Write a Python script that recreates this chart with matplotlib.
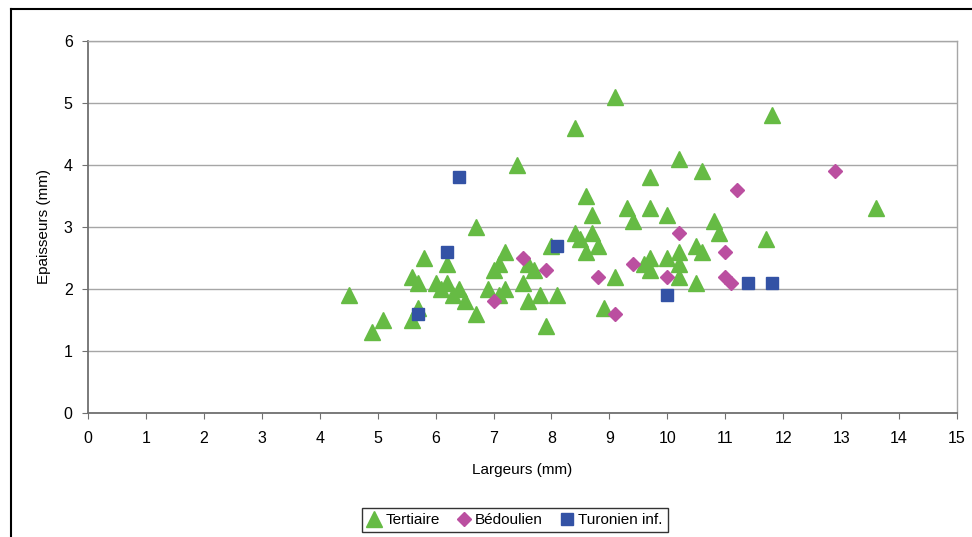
import matplotlib
matplotlib.use('Agg')
import matplotlib.pyplot as plt
from matplotlib.lines import Line2D

plt.rcParams['font.family'] = ['Liberation Sans', 'DejaVu Sans']

# Tertiaire (largeur, epaisseur)
tert_x = [4.5, 4.9, 5.1, 5.6, 5.7, 5.6, 5.7, 5.8, 6.2, 6.0, 6.1, 6.2, 6.3, 6.4, 6.5, 6.7, 6.7, 6.9,
          7.4, 8.6, 8.7, 9.3, 9.4, 8.4, 8.5, 8.7, 8.8, 8.6, 8.0, 7.2, 7.1, 7.0, 7.6, 7.7, 7.5, 7.2,
          7.1, 7.6, 7.8, 8.1, 7.9, 8.9, 9.1, 10.2, 10.6, 9.7, 9.7, 10.0, 10.8, 10.9, 11.7, 10.5,
          10.6, 10.2, 9.7, 10.0, 9.6, 9.7, 10.2, 10.2, 10.5, 9.1, 8.4, 11.8, 13.6]
tert_y = [1.9, 1.3, 1.5, 1.5, 1.7, 2.2, 2.1, 2.5, 2.4, 2.1, 2.0, 2.1, 1.9, 2.0, 1.8, 1.6, 3.0, 2.0,
          4.0, 3.5, 3.2, 3.3, 3.1, 2.9, 2.8, 2.9, 2.7, 2.6, 2.7, 2.6, 2.4, 2.3, 2.4, 2.3, 2.1, 2.0,
          1.9, 1.8, 1.9, 1.9, 1.4, 1.7, 2.2, 4.1, 3.9, 3.8, 3.3, 3.2, 3.1, 2.9, 2.8, 2.7,
          2.6, 2.6, 2.5, 2.5, 2.4, 2.3, 2.4, 2.2, 2.1, 5.1, 4.6, 4.8, 3.3]

# Bédoulien
bed_x = [7.0, 7.5, 7.9, 8.8, 9.1, 9.4, 10.0, 10.2, 11.0, 11.0, 11.1, 11.2, 12.9]
bed_y = [1.8, 2.5, 2.3, 2.2, 1.6, 2.4, 2.2, 2.9, 2.6, 2.2, 2.1, 3.6, 3.9]

# Turonien inf.
tur_x = [5.7, 6.2, 6.4, 8.1, 10.0, 11.4, 11.8]
tur_y = [1.6, 2.6, 3.8, 2.7, 1.9, 2.1, 2.1]

fig = plt.figure(figsize=(9.72, 5.37), dpi=100)
ax = fig.add_axes([88/972, 1-413/537, (957-88)/972, (413-41)/537])

ax.plot(tert_x, tert_y, ls='none', marker='^', ms=11, color='#66bb44', mec='#66bb44', label='Tertiaire', zorder=3)
ax.plot(bed_x, bed_y, ls='none', marker='D', ms=7, color='#bb4fa0', mec='#bb4fa0', label='Bédoulien', zorder=4)
ax.plot(tur_x, tur_y, ls='none', marker='s', ms=8, color='#3352a5', mec='#3352a5', label='Turonien inf.', zorder=5)

ax.set_xlim(0, 15)
ax.set_ylim(0, 6)
ax.set_xticks(range(0, 16))
ax.set_yticks(range(0, 7))
ax.yaxis.grid(True, color='#a6a6a6', lw=1)
ax.set_axisbelow(True)
ax.tick_params(labelsize=11.5, length=4, color='#707070')
ax.tick_params(axis='x', pad=9)
ax.tick_params(axis='y', pad=7)

for s in ['left', 'bottom']:
    ax.spines[s].set_color('#707070')
    ax.spines[s].set_linewidth(1.3)
for s in ['right', 'top']:
    ax.spines[s].set_color('#a6a6a6')
    ax.spines[s].set_linewidth(1)

ax.set_xlabel('Largeurs (mm)', fontsize=11, labelpad=12)
ax.set_ylabel('Epaisseurs (mm)', fontsize=11, labelpad=9)

fig.legend(loc='center', bbox_to_anchor=(515/972, 1-520/537), ncol=3, fontsize=11,
           frameon=True, fancybox=False, edgecolor='black', handlelength=0.9,
           handletextpad=0.3, columnspacing=1.1, borderpad=0.35)

# outer frame of the chart area
fig.add_artist(Line2D([11/972, 11/972], [0, 1-9/537], color='black', lw=1.5))
fig.add_artist(Line2D([11/972, 1], [1-9/537, 1-9/537], color='black', lw=1.5))

fig.savefig('out.png', dpi=100)
